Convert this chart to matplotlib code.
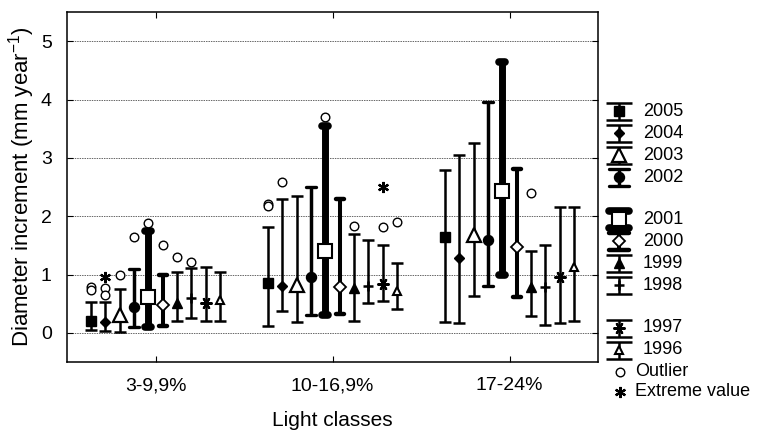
import matplotlib.pyplot as plt

plt.rcParams['font.family'] = ['Liberation Sans', 'DejaVu Sans']
plt.rcParams['mathtext.fontset'] = 'custom'
plt.rcParams['mathtext.rm'] = 'Liberation Sans'
plt.rcParams['mathtext.default'] = 'regular'

# light classes and years (2005 first, as in the legend)
classes = ['3-9,9%', '10-16,9%', '17-24%']
years = ['2005', '2004', '2003', '2002', '2001', '2000', '1999', '1998', '1997', '1996']

# median, min and max (non-outlier range) per year, one list per class
med_3_9 = [0.21, 0.19, 0.31, 0.45, 0.61, 0.48, 0.51, 0.60, 0.52, 0.56]
lo_3_9 = [0.05, 0.04, 0.02, 0.10, 0.10, 0.11, 0.20, 0.25, 0.20, 0.20]
hi_3_9 = [0.53, 0.53, 0.76, 1.09, 1.74, 0.99, 1.04, 1.11, 1.13, 1.05]

med_10_16 = [0.85, 0.80, 0.82, 0.96, 1.40, 0.79, 0.77, 0.80, 0.84, 0.72]
lo_10_16 = [0.12, 0.38, 0.19, 0.31, 0.31, 0.32, 0.21, 0.51, 0.55, 0.41]
hi_10_16 = [1.81, 2.30, 2.35, 2.50, 3.55, 2.30, 1.70, 1.60, 1.50, 1.20]

med_17_24 = [1.64, 1.28, 1.68, 1.59, 2.43, 1.47, 0.79, 0.79, 0.95, 1.13]
lo_17_24 = [0.19, 0.17, 0.63, 0.80, 1.00, 0.61, 0.29, 0.14, 0.17, 0.20]
hi_17_24 = [2.80, 3.05, 3.26, 3.95, 4.65, 2.81, 1.40, 1.50, 2.15, 2.15]

# outliers and extreme values: class index, year index, value
out_cls = [0, 0, 0, 0, 0, 0, 0, 0, 0, 0, 1, 1, 1, 1, 1, 1, 1, 2]
out_yr = [0, 0, 1, 1, 2, 3, 4, 5, 6, 7, 0, 0, 1, 4, 6, 8, 9, 6]
out_val = [0.79, 0.74, 0.77, 0.65, 1.00, 1.65, 1.89, 1.50, 1.30, 1.21,
           2.20, 2.17, 2.58, 3.70, 1.84, 1.81, 1.90, 2.39]
ext_cls = [0, 1]
ext_yr = [1, 8]
ext_val = [0.96, 2.50]

meds = [med_3_9, med_10_16, med_17_24]
los = [lo_3_9, lo_10_16, lo_17_24]
his = [hi_3_9, hi_10_16, hi_17_24]

# styles per year
mk = ['s', 'D', '^', 'o', 's', 'D', '^', '+', (6, 2, 90), '^']
mfc = ['k', 'k', 'w', 'k', 'w', 'w', 'k', 'k', 'k', 'w']
ms = [7.2, 5.0, 9.4, 7.2, 10.0, 6.6, 6.5, 7.5, 8.6, 5.8]
mew = [1.0, 1.0, 1.6, 1.0, 1.5, 1.3, 1.0, 1.8, 1.5, 1.5]
stem_lw = [1.8, 1.8, 1.8, 2.5, 5.0, 2.9, 1.8, 1.8, 1.8, 1.8]
cap_lw = [1.8, 1.8, 1.8, 2.4, 5.5, 3.2, 1.8, 1.8, 1.8, 1.8]
cap_rnd = [False, False, False, True, True, True, False, False, False, False]
cap_px = [6, 6, 6, 5, 3, 4, 6, 6, 6, 6]

step = 0.0808
px = 1 / 177.0


def glyph(a, x, lo, med, hi, i, hw):
    a.plot([x, x], [lo, hi], color='k', lw=stem_lw[i], solid_capstyle='butt', zorder=3)
    cs = 'round' if cap_rnd[i] else 'butt'
    for y in (lo, hi):
        a.plot([x - hw, x + hw], [y, y], color='k', lw=cap_lw[i], solid_capstyle=cs, zorder=3)
    a.plot(x, med, marker=mk[i], ms=ms[i], mfc=mfc[i], mec='k', mew=mew[i],
           linestyle='none', zorder=4)


fig = plt.figure(figsize=(7.6, 4.33), dpi=100)
ax = fig.add_axes([67 / 760, 1 - 362 / 433, (598 - 67) / 760, (362 - 12) / 433])

for c in range(len(classes)):
    for i in range(len(years)):
        x = c + 1 + (i - 4.5) * step
        glyph(ax, x, los[c][i], meds[c][i], his[c][i], i, cap_px[i] * px)

ox = [c + 1 + (i - 4.5) * step for c, i in zip(out_cls, out_yr)]
ax.plot(ox, out_val, 'o', ms=6.2, mfc='w', mec='k', mew=1.0, zorder=5)
ex = [c + 1 + (i - 4.5) * step for c, i in zip(ext_cls, ext_yr)]
ax.plot(ex, ext_val, marker=(6, 2, 0), ms=8, mec='k', mew=1.6, linestyle='none', zorder=5)

ax.set_xlim(0.5, 3.5)
ax.set_ylim(-0.5, 5.5)
ax.set_xticks([1, 2, 3])
ax.set_xticklabels(classes, fontsize=14)
ax.set_yticks(range(6))
ax.tick_params(axis='y', labelsize=14, direction='in', right=True, length=4, pad=11)
ax.tick_params(axis='x', direction='in', top=True, length=4, pad=11)
ax.yaxis.grid(True, color='0.4', linestyle=(0, (1.5, 1)), lw=0.7)
ax.set_axisbelow(True)
for s in ax.spines.values():
    s.set_linewidth(1.1)
ax.set_xlabel('Light classes', fontsize=15, labelpad=12)
ax.set_ylabel('Diameter increment (mm year$^{-1}$)', fontsize=16, labelpad=3)

# legend drawn in pixel coordinates
lax = fig.add_axes([600 / 760, 0, 160 / 760, 1])
lax.set_xlim(600, 760)
lax.set_ylim(433, 0)
lax.axis('off')
leg_y = [111, 133, 155, 177, 219, 241, 263, 285, 328, 350]
for i, y in enumerate(leg_y):
    glyph(lax, 619, y + 8.5, y, y - 8.5, i, 13 if not cap_rnd[i] else 10)
    lax.text(643, y, years[i], fontsize=13, va='center', ha='left')
lax.plot(620, 372, 'o', ms=6.2, mfc='w', mec='k', mew=1.0)
lax.text(635, 372, 'Outlier', fontsize=13, va='center', ha='left')
lax.plot(620, 392, marker=(6, 2, 0), ms=8, mec='k', mew=1.6)
lax.text(635, 392, 'Extreme value', fontsize=13, va='center', ha='left')

fig.savefig('out.png', dpi=100)
